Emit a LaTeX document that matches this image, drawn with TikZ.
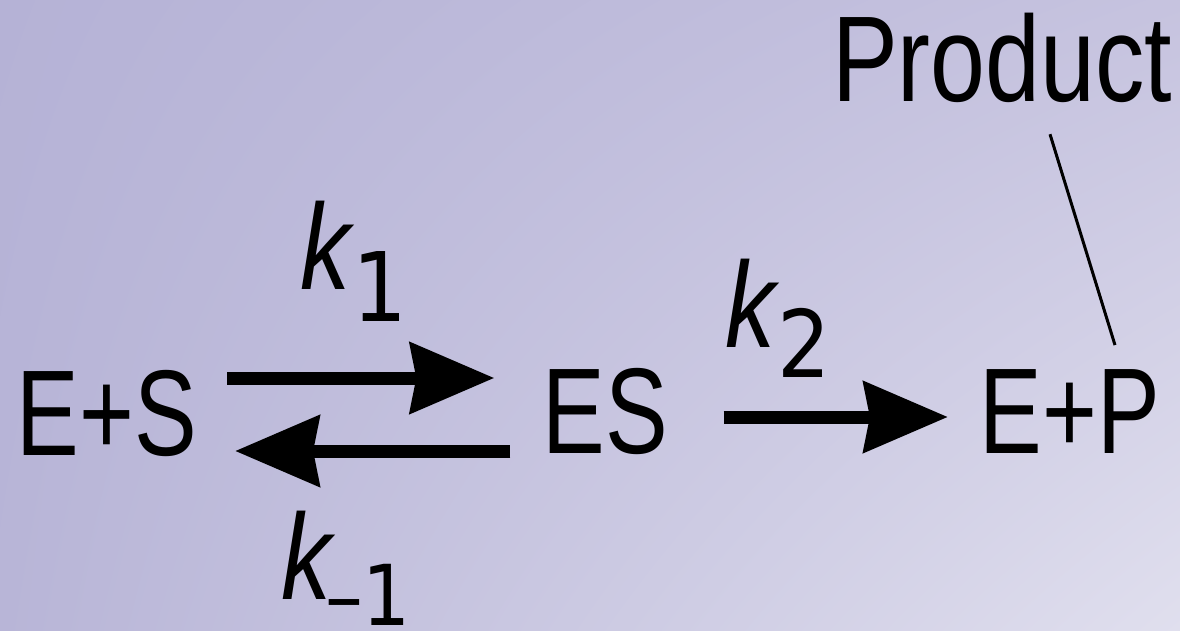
\documentclass[tikz,border=0pt]{standalone}
\usepackage{fontspec}
\usetikzlibrary{arrows.meta,shadings}
\setmainfont[FakeStretch=0.77]{Liberation Sans}
\newfontfamily\kfont[FakeStretch=0.82]{Liberation Sans Italic}
\newfontfamily\subfont[FakeStretch=0.9]{DejaVu Sans}
\definecolor{bgTL}{HTML}{B5B2D6}
\definecolor{bgTR}{HTML}{C6C3DF}
\definecolor{bgBL}{HTML}{B8B5D7}
\definecolor{bgBR}{HTML}{E0DFEE}
\tikzset{
  lbl/.style={inner sep=0pt, outer sep=0pt, font=\fontsize{61}{70}\selectfont, text=black},
  klbl/.style={inner sep=0pt, outer sep=0pt, anchor=base west, text=black},
  fat/.style={line width=6.5pt, draw=black, -{Stealth[length=42pt, width=35pt, inset=3pt]}},
  thinline/.style={line width=1.5pt, draw=black}
}
\begin{document}
\begin{tikzpicture}[x=0.5pt, y=-0.5pt]
\shade[upper left=bgTL, upper right=bgTR, lower left=bgBL, lower right=bgBR] (0,0) rectangle (1180,631);
\useasboundingbox (0,0) rectangle (1180,631);
% species
\node[lbl, anchor=base] (es) at (107,455) {E+S};
\node[lbl, anchor=base] (esc) at (605,453) {ES};
\node[lbl, anchor=base] (ep) at (1070,453) {E+P};
\node[lbl, anchor=base] (prod) at (1002,102) {\scalebox{1.05}[1]{Product}};
% rate constants
\node[klbl] (k1) at (300,290) {\fontsize{61}{70}\kfont k\kern1pt\raisebox{-16pt}{\subfont\fontsize{48}{50}\selectfont 1}};
\node[klbl] (k2) at (725,348) {\fontsize{61}{70}\kfont k\kern1pt\raisebox{-15pt}{\subfont\fontsize{46.6}{50}\selectfont 2}};
\node[klbl] (km1) at (281,599) {\fontsize{61}{70}\kfont k\kern-3pt\raisebox{-13pt}{\subfont\fontsize{42}{50}\selectfont \textendash 1}};
% arrows
\draw[fat] ([xshift=15pt]es.east |- 0,378) -- ([xshift=-24pt]esc.west |- 0,378);
\draw[fat] ([xshift=-16pt]esc.west |- 0,451) -- ([xshift=19pt]es.east |- 0,451);
\draw[fat] ([xshift=28pt]esc.east |- 0,417) -- ([xshift=-16pt]ep.west |- 0,417);
% product pointer
\draw[thinline] ([xshift=24pt,yshift=-15.5pt]prod.south) -- ([xshift=22.5pt,yshift=12pt]ep.north);
\end{tikzpicture}
\end{document}
